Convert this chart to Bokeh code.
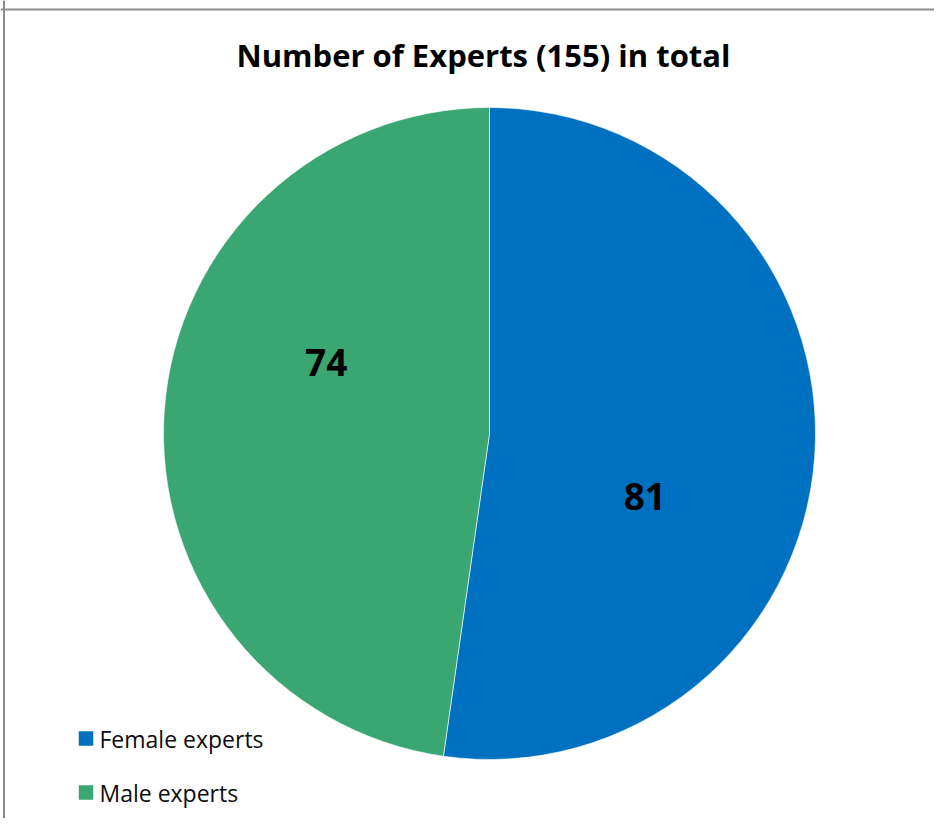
import math
from bokeh.plotting import figure
from bokeh.models import Range1d, Span, ColumnDataSource
from bokeh.core.properties import value
from bokeh.embed import file_html
from bokeh.resources import INLINE

# ---- data ----
categories = ["Female experts", "Male experts"]
counts = [81, 74]
colors = ["#0070C0", "#3AA672"]
title_text = "Number of Experts (155) in total"

# ---- layout: data x = pixel x, data y = H - pixel y ----
W, H = 934, 818
p = figure(width=W, height=H, output_backend="svg", toolbar_location=None,
           x_range=Range1d(0, W), y_range=Range1d(0, H),
           min_border=0, outline_line_color=None)
p.axis.visible = False
p.grid.visible = False
p.background_fill_color = "white"
p.border_fill_color = "white"


def Y(py):
    return H - py


cx, cy, R = 489, Y(433), 326
total = sum(counts)
starts, ends, lx, ly = [], [], [], []
a = math.pi / 2
for c in counts:
    sweep = 2 * math.pi * c / total
    starts.append(a)
    ends.append(a - sweep)
    mid = a - sweep / 2 - math.radians(18.7)
    lx.append(cx + 0.53 * R * math.cos(mid))
    ly.append(cy + 0.53 * R * math.sin(mid))
    a -= sweep

src = ColumnDataSource(dict(start=starts, end=ends, color=colors,
                            label=[str(c) for c in counts], lx=lx, ly=ly,
                            cat=categories))
p.wedge(x=cx, y=cy, radius=R, start_angle="start", end_angle="end",
        direction="clock", fill_color="color", line_color="white",
        line_alpha=0.6, line_width=1, source=src)

p.text(x="lx", y="ly", text="label", source=src,
       text_font=value("Open Sans"), text_font_style="bold",
       text_font_size="37px", text_color="black",
       text_align="center", text_baseline="middle",
       x_offset=-4, y_offset=-4)

# title
p.text(x=[483], y=[Y(54)], text=[title_text],
       text_font=value("Open Sans"), text_font_style="bold",
       text_font_size="31px", text_color="black",
       text_align="center", text_baseline="alphabetic")

# legend (manual)
leg_y = [Y(738), Y(792)]
p.scatter(x=[85.5, 85.5], y=leg_y, marker="square", size=14.5,
          fill_color=colors, line_color=None)
p.text(x=[99, 99], y=leg_y, text=categories,
       text_font=value("Open Sans"), text_font_size="23px",
       text_color="#0D0D0D", text_align="left", text_baseline="middle")

# chart border
p.add_layout(Span(location=Y(9), dimension="width",
                  line_color="#8C8C8C", line_width=2))
p.add_layout(Span(location=3.5, dimension="height",
                  line_color="#8C8C8C", line_width=2))

open("out.html", "w").write(file_html(p, INLINE))
